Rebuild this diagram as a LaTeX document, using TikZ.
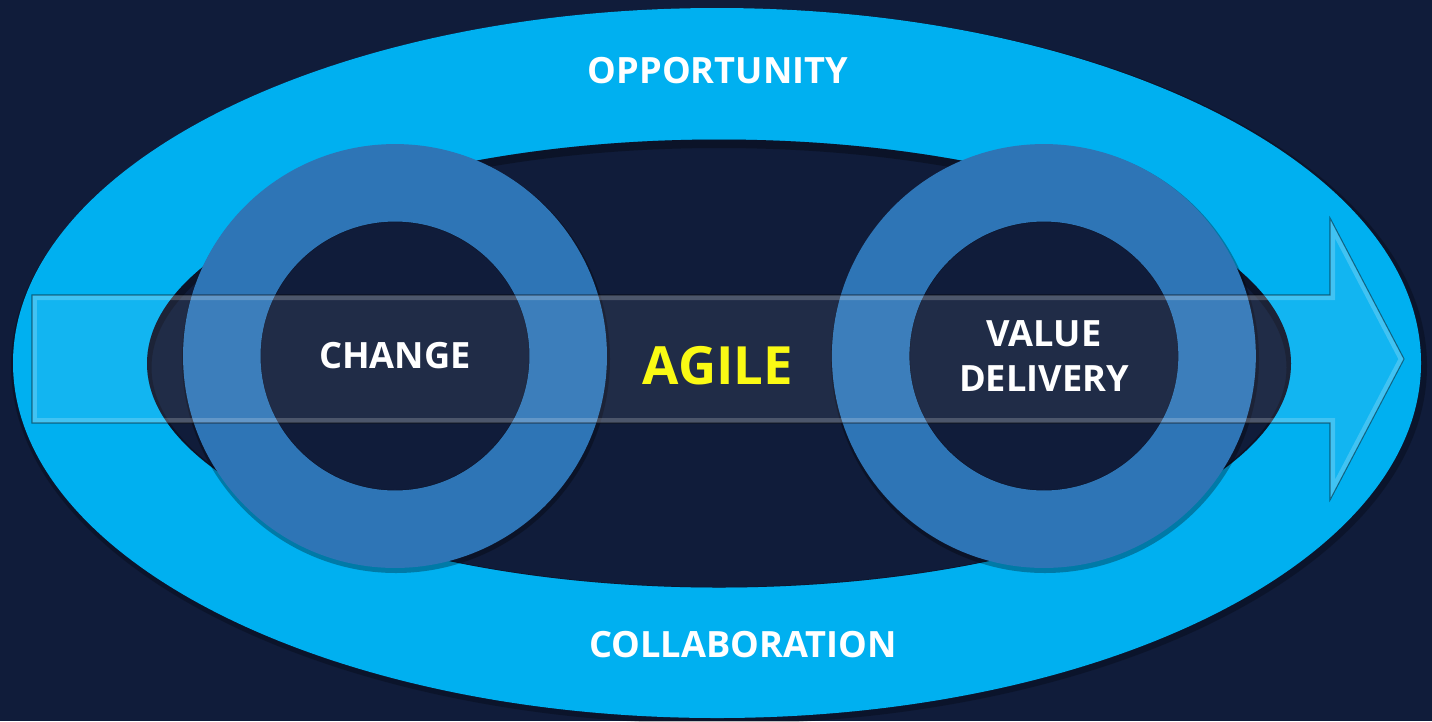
\documentclass[tikz,border=0pt]{standalone}
\usepackage{fontspec}
\setmainfont{Open Sans}
\definecolor{slidenavy}{RGB}{16,28,58}
\definecolor{oppcyan}{RGB}{0,176,240}
\definecolor{ringblue}{RGB}{46,117,182}
\definecolor{agileyellow}{RGB}{250,250,20}
\tikzset{
x=0.02cm, y=-0.02cm, % one unit is one pixel of the slide, y grows downwards
node distance=12.98cm, % distance between the centres of the two rings
every node/.style={text=white, font=\bfseries\fontsize{20.6}{26}\selectfont}, % white bold labels
ring/.style={circle, draw=ringblue, line width=1.55cm, minimum size=6.93cm, inner sep=0pt, align=center}, % blue ring round a label
band/.style={fill=white, fill opacity=0.07}, % see-through arrow
bevel/.style={draw=white, draw opacity=0.2, line width=0.2cm}, % glassy inner edge of the arrow
rim/.style={draw=black, draw opacity=0.45, line width=0.6pt}, % thin outline of the arrow
}
\def\bandoutline{(32,295) -- (1330,295) -- (1330,218) -- (1404,359) -- (1330,500) -- (1330,423) -- (32,423) -- cycle}

\begin{document}
\begin{tikzpicture}
        \fill[slidenavy] (0,0) rectangle (1432,721);
        \useasboundingbox (0,0) rectangle (1432,721);

        % opportunity / collaboration ellipse
        \fill[black, opacity=0.25] (719,366) ellipse [x radius=708, y radius=358];
        \fill[oppcyan] (717,363) ellipse [x radius=704, y radius=355];
        \fill[slidenavy] (719,363.5) ellipse [x radius=572, y radius=224];
        \begin{scope}
            \clip (719,363.5) ellipse [x radius=572, y radius=224];
            \draw[black, opacity=0.3, line width=0.18cm] (719,367.5) ellipse [x radius=572, y radius=224];
        \end{scope}

        % rings
        \fill[black, opacity=0.3, even odd rule] (396,359) circle (214) (395,356) circle (134);
        \fill[black, opacity=0.3, even odd rule] (1045,359) circle (214) (1044,356) circle (134);
        \node[ring] (change) at (395,356) {CHANGE};
        \node[ring, right of=change] (delivery) {VALUE\\DELIVERY};

        % arrow
        \begin{scope}
            \clip \bandoutline;
            \path[band] \bandoutline;
            \path[bevel] \bandoutline;
        \end{scope}
        \path[rim] \bandoutline;

        \node[text=agileyellow, font=\bfseries\fontsize{30}{36}\selectfont] (agile) at (718,366) {AGILE};
        \node (opportunity) at (718,70.5) {OPPORTUNITY};
        \node (collaboration) at (743,644.5) {COLLABORATION};
    \end{tikzpicture}
\end{document}
